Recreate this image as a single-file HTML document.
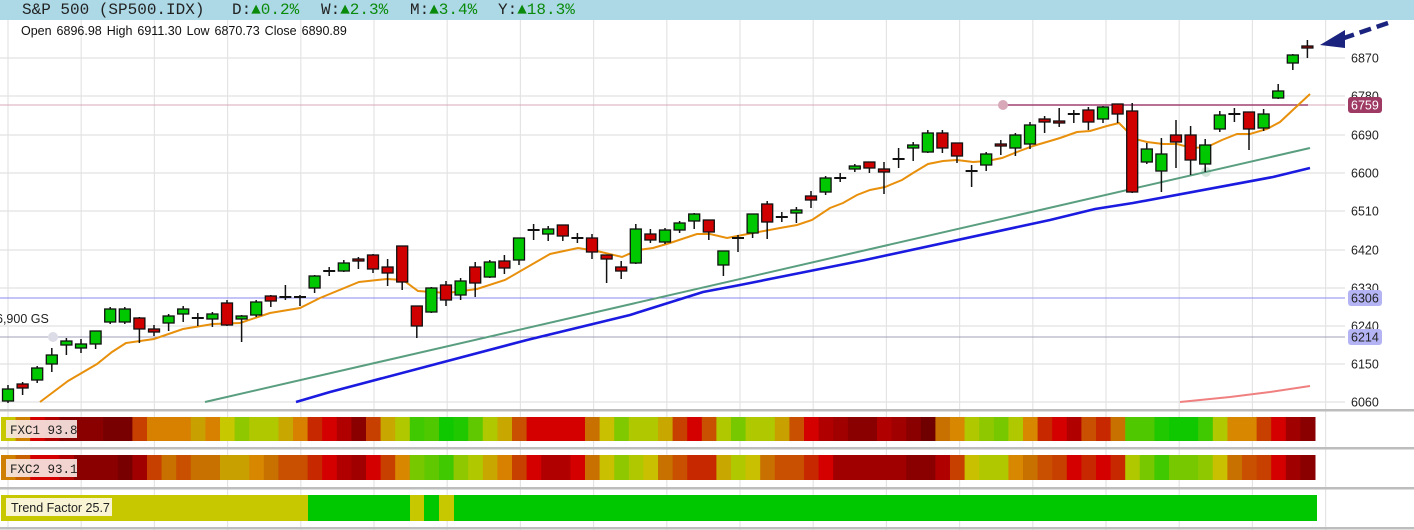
<!DOCTYPE html>
<html><head><meta charset="utf-8"><style>
html,body{margin:0;padding:0;background:#fff;}
body{width:1414px;height:530px;overflow:hidden;position:relative;}
#hdr{position:absolute;left:0;top:0;width:1414px;height:20px;background:#add8e6;}
.h{position:absolute;top:1px;font:16px "Liberation Mono",monospace;color:#222;white-space:pre;line-height:18px;}
.g{color:#0a8a0a;}
svg{position:absolute;left:0;top:0;}
</style></head><body>
<div id="hdr"></div>
<div class="h" style="left:22px">S&amp;P 500 (SP500.IDX)</div>
<div class="h" style="left:232px">D:<span class="g">▲0.2%</span></div>
<div class="h" style="left:321px">W:<span class="g">▲2.3%</span></div>
<div class="h" style="left:410px">M:<span class="g">▲3.4%</span></div>
<div class="h" style="left:498px">Y:<span class="g">▲18.3%</span></div>
<svg id="s" width="1414" height="530" xmlns="http://www.w3.org/2000/svg" font-family="Liberation Sans, sans-serif"></svg>
<script>
var s=document.getElementById('s'),o='';
for(var k=0;k<19;k++){var x=8+k*73.2;if(x<1345)o+='<line x1="'+x+'" y1="20" x2="'+x+'" y2="530" stroke="#e4e4e4" stroke-width="1.2"/>';}
var ys=[58,96,135,173,211,250,288,326,364,402],lb=[6870,6780,6690,6600,6510,6420,6330,6240,6150,6060];
for(var i=0;i<10;i++){o+='<line x1="0" y1="'+ys[i]+'" x2="1345" y2="'+ys[i]+'" stroke="#e2e2e2" stroke-width="1.2"/>';}
var w=14.6;
function seg(arr,y,h){var r='';for(var k=0;k<arr.length;k++){var x0=k==0?1:15.6+(k-1)*w,x1=15.6+k*w;if(x1>1317)x1=1317;r+='<rect x="'+x0+'" y="'+y+'" width="'+(x1-x0+0.5)+'" height="'+h+'" fill="'+arr[k]+'"/>';}return r;}
var f1=['#c8c800','#d08000','#d40000','#b00000','#8a0000','#8a0000','#8a0000','#780000','#780000','#c84000','#d88000','#d88000','#d88000','#c8a000','#d88000','#c8c800','#90c800','#b0c800','#b0c800','#c8a800','#d88000','#c82800','#d40000','#b00000','#8a0000','#c84000','#c8a800','#b0c800','#40c800','#50c800','#10c800','#20c800','#60c800','#b0c800','#c8a800','#c85000','#d40000','#d40000','#d40000','#d40000','#c87000','#c8c000','#80c800','#b0c800','#b0c800',
'#c8a800','#c84000','#d40000','#c85000','#b0c800','#78c800','#b0c800','#b0c800','#c8a000','#c85000','#d40000','#b00000','#a00000','#8a0000','#8a0000','#b00000','#a00000','#8a0000','#700000','#c87000','#d88800','#b0c800','#90c800','#78c800','#b0c800','#d88800','#c82800','#d40000','#b00000','#c85000','#c82800','#c87000','#50c800','#50c800','#20c800','#10c800','#10c800','#40c800','#b0c800','#d88800','#d88800','#c84000','#d40000','#a00000','#8a0000'];
var f2=['#d08000','#c86000','#d40000','#d40000','#b00000','#8a0000','#8a0000','#8a0000','#780000','#a00000','#c84000','#c87000','#c85000','#c87000','#c87000','#c8a000','#c8a000','#d88800','#c87000','#c85000','#c85000','#c82800','#d40000','#b00000','#a00000','#d40000','#c84000','#d88800','#78c800','#60c800','#40c800','#90c800','#b0c800','#c8a800','#d88000','#c84000','#d40000','#b00000','#b00000','#d40000','#c87000','#c8c000','#90c800','#b0c800','#c8c000',
'#c87000','#c85000','#c82800','#c82800','#c8a800','#b0c800','#c8c000','#c87000','#c85000','#c85000','#c82800','#d40000','#a00000','#a00000','#a00000','#a00000','#a00000','#8a0000','#8a0000','#b00000','#c84000','#c8c000','#b0c800','#b0c800','#d88800','#c87000','#c85000','#c84000','#d40000','#c82800','#d40000','#c82800','#b0c800','#78c800','#40c800','#78c800','#78c800','#90c800','#c8c000','#c87000','#c85000','#c84000','#d40000','#a00000','#8a0000'];
o+=seg(f1,417,24)+seg(f2,455,25);
o+='<rect x="1" y="495" width="307" height="26" fill="#c8c800"/><rect x="308" y="495" width="102" height="26" fill="#00c800"/><rect x="410" y="495" width="14" height="26" fill="#c8c800"/><rect x="424" y="495" width="15" height="26" fill="#00c800"/><rect x="439" y="495" width="15" height="26" fill="#c8c800"/><rect x="454" y="495" width="863" height="26" fill="#00c800"/>';
[410,448,488,528].forEach(function(y){o+='<rect x="0" y="'+(y-1)+'" width="1414" height="2.5" fill="#bdbdbd"/>';});
o+='<rect x="6" y="420" width="71" height="18" fill="#f6e6e2" opacity="0.92"/><text x="10" y="434" font-family="Liberation Mono,monospace" font-size="12.5" fill="#222">FXC1 93.8</text>';
o+='<rect x="6" y="459" width="71" height="18" fill="#f6e6e2" opacity="0.92"/><text x="10" y="473" font-family="Liberation Mono,monospace" font-size="12.5" fill="#222">FXC2 93.1</text>';
o+='<rect x="6" y="498" width="106" height="18" fill="#f8f4d4"/><text x="11" y="512" font-size="12.5" fill="#222">Trend Factor 25.7</text>';
o+='<line x1="0" y1="105" x2="1345" y2="105" stroke="#d8a8b8" stroke-width="1"/><line x1="1003" y1="105" x2="1308" y2="105" stroke="#a04070" stroke-width="1.5"/><circle cx="1003" cy="105" r="5" fill="#d8a8b8"/>';
o+='<line x1="0" y1="298" x2="1345" y2="298" stroke="#8a8af0" stroke-width="1"/>';
o+='<line x1="0" y1="337" x2="1345" y2="337" stroke="#a0a0b8" stroke-width="1"/><circle cx="53" cy="337" r="5" fill="#dcdce6"/><circle cx="1206" cy="172" r="5" fill="#d4e6dc"/>';
o+='<text x="-4" y="323" font-size="12.5" fill="#222">6,900 GS</text>';
o+='<polyline fill="none" stroke="#f08080" stroke-width="2" points="1180,402 1230,397 1270,392 1310,386"/>';
o+='<line x1="205" y1="402" x2="1310" y2="148" stroke="#5a9e80" stroke-width="2"/>';
o+='<polyline fill="none" stroke="#1a1ae0" stroke-width="2.6" points="296,402 330,392 527,340 630,315 703,292 740,285 865,260 1050,220 1095,209 1133,203 1273,177 1310,168"/>';
o+='<polyline fill="none" stroke="#e8900c" stroke-width="2" points="40,402 68,381 97,364 112,352 126,343 154,339 183,329 213,324 240,323 270,313 300,308 320,298 359,282 387,279 403,280 418,291 447,293 477,289 505,280 550,254 578,248 597,251 622,257 638,250 653,248 670,243 697,234 710,234 727,238 753,233 780,228 797,225 812,220 830,208 843,203 857,195 870,190 885,187 902,180 913,173 928,164 943,161 957,160 973,162 987,161 1002,158 1017,152 1033,146 1050,141 1060,138 1077,132 1090,131 1107,126 1119,123 1135,139 1147,142 1163,144 1177,144 1192,148 1207,147 1222,140 1237,134 1250,134 1267,129 1280,122 1295,108 1310,94"/>';
var C=[['G',389,401,385,403],['R',384,388,382,395],['G',368,380,366,383],['G',355,364,348,372],['G',341,345,338,355],['G',344,348,339,353],['G',331,344,331,349],['G',309,322,307,324],['G',309,322,307,324],['R',318,329,317,343],['R',329,332,325,336],['G',316,323,314,331],['G',309,314,306,322],['D',318,318,313,326],['G',314,319,312,327],['R',303,325,300,326],['G',316,319,315,342],['G',302,315,300,317],['R',296,301,295,307],['D',297,297,285,300],['D',297,297,295,306],['G',276,288,275,293],['D',271,271,267,276],['G',263,271,260,272],['R',259,261,257,269],['R',255,269,254,273],['R',267,273,259,286],['R',246,282,246,290],['R',306,326,306,338],['G',288,312,287,313],['R',285,300,281,306],['G',281,295,278,300],['R',267,283,262,297],['G',262,277,260,278],['R',261,268,255,274],['G',238,260,238,265],['D',230,230,224,240],['G',229,234,226,241],['R',225,236,225,241],['D',238,238,233,243],['R',238,252,234,259],['R',255,259,255,283],['R',267,271,261,279],['G',229,263,224,264],['R',234,240,229,243],['G',230,242,228,244],['G',223,230,221,233],['G',214,221,213,229],['R',220,232,220,240],['G',251,265,251,276],['D',238,238,235,252],['G',214,233,214,238],['R',204,222,201,239],['D',217,217,212,222],['G',210,213,207,223],['R',196,200,191,208],['G',178,192,176,195],['D',178,178,173,182],['G',166,169,164,172],['R',162,168,162,173],['R',169,172,162,194],['D',159,159,148,168],['G',145,148,142,161],['G',133,152,130,153],['R',133,148,130,153],['R',143,156,143,163],['D',171,171,165,187],['G',154,165,152,171],['R',144,146,140,155],['G',135,148,133,156],['G',125,144,122,149],['R',119,122,116,133],['R',121,123,108,127],['D',114,114,110,123],['R',110,122,107,130],['G',107,119,106,123],['R',104,114,104,123],['R',111,192,103,193],['G',149,162,143,164],['G',154,171,138,192],['R',135,142,120,168],['R',135,160,126,175],['G',145,164,139,172],['G',115,129,111,132],['D',114,114,108,122],['R',112,129,112,150],['G',114,128,109,131],['G',91,98,84,99],['G',55,63,54,70],['R',46,48,40,58]];
for(var i=0;i<C.length;i++){var c=C[i],x=8+i*14.6;
o+='<line x1="'+x+'" y1="'+c[3]+'" x2="'+x+'" y2="'+c[4]+'" stroke="#111" stroke-width="1.5"/>';
if(c[0]=='D'){o+='<line x1="'+(x-6)+'" y1="'+c[1]+'" x2="'+(x+6)+'" y2="'+c[1]+'" stroke="#111" stroke-width="2"/>';}
else{var h=Math.max(c[2]-c[1],2);o+='<rect x="'+(x-5.5)+'" y="'+c[1]+'" width="11" height="'+h+'" fill="'+(c[0]=='G'?'#00c800':'#d00000')+'" stroke="#111" stroke-width="1.3"/>';}}
for(var i=0;i<10;i++){o+='<text x="1351" y="'+(ys[i]+4.5)+'" font-size="12.5" fill="#222">'+lb[i]+'</text>';}
o+='<rect x="1348" y="97" width="34" height="16" rx="3" fill="#9e3a63"/><text x="1351" y="109.5" font-size="12.5" fill="#fff">6759</text>';
o+='<rect x="1348" y="290" width="34" height="16" rx="3" fill="#b4b4f4"/><text x="1351" y="302.5" font-size="12.5" fill="#222">6306</text>';
o+='<rect x="1348" y="329" width="34" height="16" rx="3" fill="#b4b4f4"/><text x="1351" y="341.5" font-size="12.5" fill="#222">6214</text>';
o+='<text x="21" y="35" font-size="12.5" fill="#111" word-spacing="1.5">Open 6896.98  High 6911.30  Low 6870.73  Close 6890.89</text>';
o+='<line x1="1388" y1="23" x2="1338" y2="40" stroke="#1a237e" stroke-width="4.5" stroke-dasharray="12,6"/><polygon points="1320,45 1345,30 1345,48" fill="#1a237e"/>';
s.innerHTML=o;
</script>
</body></html>
